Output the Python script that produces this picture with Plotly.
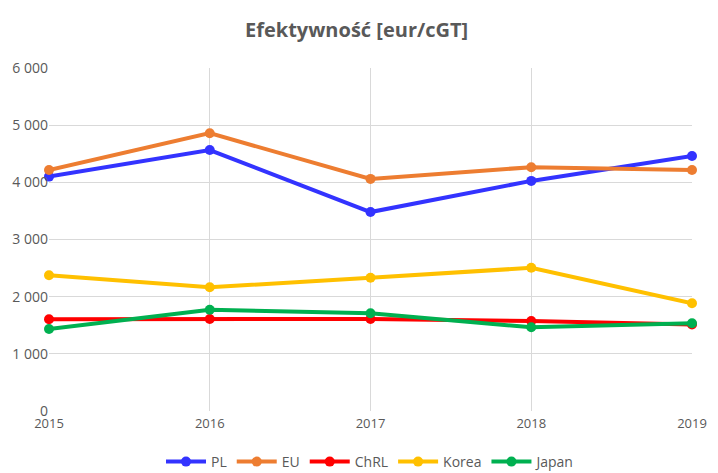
import plotly.graph_objects as go

years = [2015, 2016, 2017, 2018, 2019]
pl = [4100, 4565, 3480, 4025, 4460]
eu = [4215, 4860, 4060, 4265, 4215]
chrl = [1605, 1610, 1610, 1575, 1515]
korea = [2375, 2165, 2330, 2505, 1885]
japan = [1435, 1770, 1710, 1465, 1535]

series = [
    ("PL", pl, "#3333FF"),
    ("EU", eu, "#ED7D31"),
    ("ChRL", chrl, "#FF0000"),
    ("Korea", korea, "#FFC000"),
    ("Japan", japan, "#00B050"),
]

fig = go.Figure()
for name, vals, col in series:
    fig.add_trace(go.Scatter(
        x=years, y=vals, name=name, mode="lines+markers",
        line=dict(color=col, width=4),
        marker=dict(color=col, size=10),
        cliponaxis=False,
    ))

fig.update_layout(
    width=710, height=465,
    margin=dict(l=41, r=26, t=60, b=62),
    paper_bgcolor="white", plot_bgcolor="white",
    separators=", ",
    font=dict(family="Open Sans", color="#595959", size=13),
    title=dict(text="<b>Efektywność [eur/cGT]</b>", x=0.491, xanchor="center",
               y=1 - 22 / 465, yanchor="middle",
               font=dict(family="Open Sans", size=20, color="#595959")),
    showlegend=True,
    legend=dict(orientation="h", x=0.5, xanchor="center",
                yref="container", y=11 / 465, yanchor="middle",
                itemwidth=40,
                font=dict(size=14, color="#595959")),
    xaxis=dict(range=[2015, 2019], tickvals=years, showgrid=True,
               gridcolor="#D9D9D9", gridwidth=1, zeroline=False,
               showline=False, ticks="", tickfont=dict(size=13),
               ticklabelstandoff=3, automargin=False),
    yaxis=dict(range=[0, 6000], dtick=1000, tickformat=",d", showgrid=True,
               gridcolor="#D9D9D9", gridwidth=1, zeroline=False,
               showline=False, ticks="", tickfont=dict(size=14),
               automargin=False),
)
fig.write_html("out.html")
